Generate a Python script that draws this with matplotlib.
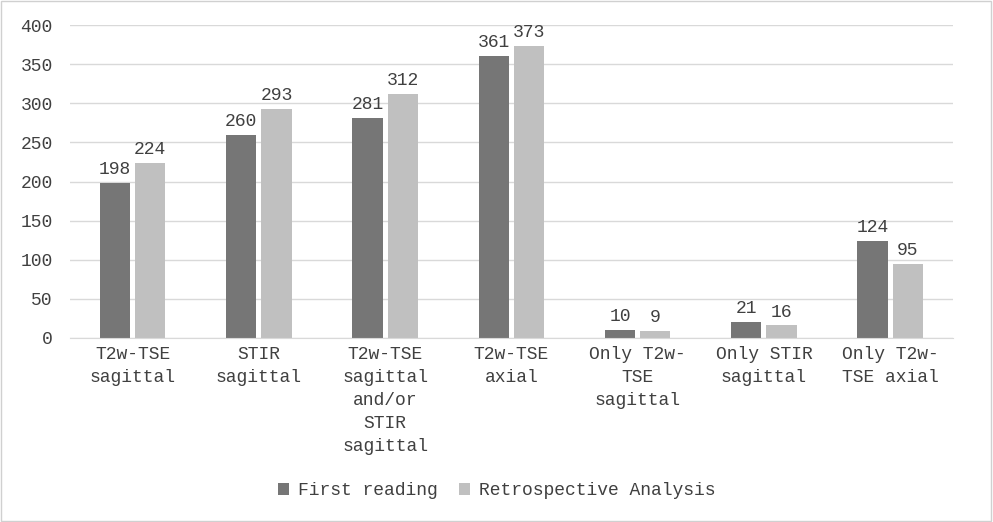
import matplotlib
matplotlib.use("Agg")
import matplotlib.pyplot as plt
import numpy as np

categories = ["T2w-TSE\nsagittal", "STIR\nsagittal", "T2w-TSE\nsagittal\nand/or\nSTIR\nsagittal",
              "T2w-TSE\naxial", "Only T2w-\nTSE\nsagittal", "Only STIR\nsagittal", "Only T2w-\nTSE axial"]
first = [198, 260, 281, 361, 10, 21, 124]
retro = [224, 293, 312, 373, 9, 16, 95]

plt.rcParams['font.family'] = ['Liberation Mono', 'DejaVu Sans Mono']
tc = '#404040'
fig = plt.figure(figsize=(9.93, 5.22), dpi=100)
fig.patches.append(plt.Rectangle((0.001, 0.001), 0.997, 0.997, transform=fig.transFigure,
                                 fill=False, edgecolor='#d0d0d0', lw=1))
ax = fig.add_axes([0.07, 0.3525, 0.89, 0.5995])
x = np.arange(len(categories))
w = 0.24
b1 = ax.bar(x - w/2 - 0.02, first, w, color='#767676', label='First reading')
b2 = ax.bar(x + w/2 + 0.02, retro, w, color='#c0c0c0', label='Retrospective Analysis')
for bars in (b1, b2):
    for r in bars:
        ax.text(r.get_x() + r.get_width()/2, r.get_height() + 6, f"{int(r.get_height())}",
                ha='center', va='bottom', fontsize=13, color=tc)
ax.set_ylim(0, 400)
ax.set_xlim(-0.5, len(categories) - 0.5)
ax.set_yticks(range(0, 401, 50))
ax.yaxis.grid(True, color='#d9d9d9', lw=1)
ax.set_axisbelow(True)
for s in ['top', 'right', 'left']:
    ax.spines[s].set_visible(False)
ax.spines['bottom'].set_color('#d9d9d9')
ax.tick_params(axis='both', length=0, labelsize=13, colors=tc)
ax.tick_params(axis='y', pad=12)
ax.tick_params(axis='x', pad=6)
ax.set_xticks(x)
ax.set_xticklabels(categories, linespacing=1.45)
h, l = ax.get_legend_handles_labels()
fig.legend(h, l, loc='center', bbox_to_anchor=(0.5, 0.06), ncol=2, frameon=False,
           fontsize=13, labelcolor=tc, handlelength=0.6, handleheight=0.6, columnspacing=1.2,
           handletextpad=0.5)
fig.savefig("out.png", dpi=100)
